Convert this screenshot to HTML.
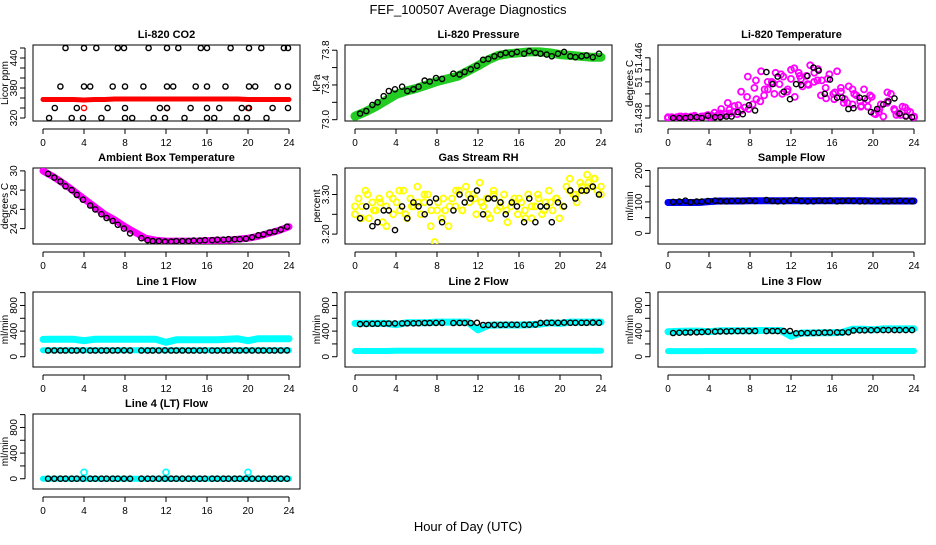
<!DOCTYPE html>
<html><head><meta charset="utf-8"><style>
html,body{margin:0;padding:0;background:#fff}
svg text{font-family:"Liberation Sans",Arial,sans-serif}
</style></head><body>
<svg id="c" width="936" height="540" viewBox="0 0 936 540" xmlns="http://www.w3.org/2000/svg">
<text x="468" y="14" text-anchor="middle" font-size="13">FEF_100507  Average Diagnostics</text>
<text x="468" y="531" text-anchor="middle" font-size="13">Hour of Day (UTC)</text>
</svg>
<script>
// ---- data ----
const blackHours=[0.5,1.1,1.7,2.2,2.8,3.3,3.9,4.6,5.1,5.7,6.2,6.8,7.3,7.9,8.5,9.6,10.2,10.7,11.3,11.9,12.5,13.0,13.6,14.2,14.7,15.3,15.8,16.5,17.0,17.6,18.1,18.7,19.2,19.8,20.4,21.0,21.5,22.1,22.6,23.2,23.8];
const hourly=[0,1,2,3,4,5,6,7,8,9,10,11,12,13,14,15,16,17,18,19,20,21,22,23,24];
const xTicks=[0,4,8,12,16,20,24];

const co2Red=[357,357,357,357,356,357,357,358,358,358,358,358,358,358,358,358,358,358,358,358,357,357,357,357,357];
const co2RedOutHours=[4.0,12.1,20.0];
const co2RedOutVals=[340,340,340];
const co2BlackHours=[2.2,4.0,5.2,7.3,7.9,10.3,12.1,13.2,15.4,16.0,18.3,20.1,21.3,23.5,23.9, 1.7,4.0,4.6,6.8,8.0,9.8,12.1,12.7,14.9,16.0,17.8,20.1,20.7,22.9,23.9, 1.15,3.3,6.3,8.0,11.4,12.1,14.4,16.0,17.2,19.4,20.1,22.4,23.9, 0.6,2.8,3.9,5.7,8.0,8.7,10.8,11.9,13.8,16.0,16.7,18.9,19.9,21.8,23.9];
const co2BlackVals=[460,460,460,460,460,460,460,460,460,460,460,460,460,460,460, 383,383,383,383,383,383,383,383,383,383,383,383,383,383,383, 340,340,340,340,340,340,340,340,340,340,340,340,340, 320,320,320,320,320,320,320,320,320,320,320,320,320,320];

const pressGreen=[73.04,73.09,73.15,73.22,73.29,73.33,73.36,73.40,73.44,73.47,73.50,73.56,73.62,73.69,73.74,73.76,73.77,73.78,73.78,73.77,73.75,73.74,73.73,73.72,73.72];
const pressBlack=[73.07,73.10,73.17,73.20,73.27,73.33,73.35,73.38,73.33,73.35,73.38,73.45,73.44,73.48,73.47,73.53,73.52,73.55,73.58,73.62,73.69,73.70,73.73,73.75,73.77,73.76,73.78,73.76,73.79,73.77,73.76,73.75,73.73,73.76,73.78,73.73,73.72,73.73,73.74,73.72,73.76];

const tempMagenta=[51.4380,51.4381,51.4380,51.4382,51.4381,51.4380,51.4382,51.4381,51.4380,51.4382,51.4383,51.4381,51.4382,51.4384,51.4383,51.4385,51.4386,51.4388,51.4385,51.4390,51.4394,51.4392,51.4398,51.4405,51.4402,51.4410,51.4418,51.4428,51.4440,51.4425,51.4435,51.4415,51.4432,51.4408,51.4440,51.4422,51.4436,51.4450,51.4428,51.4445,51.4430,51.4420,51.4438,51.4412,51.4442,51.4415,51.4405,51.4422,51.4398,51.4410,51.4402,51.4418,51.4395,51.4408,51.4385,51.4392,51.4382,51.4400,51.4412,51.4390,51.4386,51.4395,51.4383,51.4388,51.4381];
const tempMagenta2=[51.4381,51.4380,51.4382,51.4381,51.4383,51.4382,51.4384,51.4387,51.4392,51.4400,51.4396,51.4415,51.4435,51.4420,51.4442,51.4428,51.4412,51.4438,51.4418,51.4446,51.4432,51.4425,51.4440,51.4410,51.4432,51.4405,51.4420,51.4400,51.4412,51.4395,51.4404,51.4386,51.4398,51.4414,51.4392,51.4384,51.4390,51.4382];
const tempMagenta3=[51.4380,51.4381,51.4382,51.4380,51.4382,51.4383,51.4386,51.4391,51.4397,51.4408,51.4430,51.4418,51.4426,51.4412,51.4444,51.4436,51.4424,51.4430,51.4406,51.4414,51.4400,51.4418,51.4396,51.4410,51.4388,51.4402,51.4384,51.4394,51.4381];
const tempBlack=[51.4380,51.4380,51.4380,51.4381,51.4381,51.4380,51.4383,51.4381,51.4381,51.4382,51.4382,51.4388,51.4385,51.4397,51.4390,51.4441,51.4425,51.4435,51.4415,51.4405,51.4425,51.4424,51.4436,51.4447,51.4443,51.4412,51.4431,51.4407,51.4407,51.4392,51.4393,51.4407,51.4406,51.4388,51.4392,51.4398,51.4402,51.4406,51.4386,51.4382,51.4381];

const ambMagenta=[30.0,29.4,28.7,27.9,27.1,26.3,25.5,24.9,24.2,23.6,23.0,22.8,22.7,22.7,22.7,22.7,22.75,22.8,22.8,22.9,23.0,23.2,23.5,23.8,24.2];
const ambBlack=[29.7,29.3,28.9,28.4,28.0,27.5,27.0,26.4,26.0,25.5,25.1,24.8,24.4,24.0,23.5,23.0,22.8,22.7,22.7,22.65,22.65,22.7,22.7,22.7,22.75,22.75,22.8,22.8,22.85,22.85,22.9,22.9,22.9,22.95,23.1,23.3,23.4,23.6,23.7,23.9,24.2];

const rhYellow=[3.25,3.29,3.27,3.31,3.24,3.28,3.26,3.29,3.23,3.27,3.30,3.25,3.28,3.26,3.31,3.24,3.29,3.27,3.32,3.25,3.28,3.30,3.26,3.18,3.28,3.24,3.26,3.22,3.29,3.27,3.31,3.26,3.32,3.28,3.30,3.25,3.33,3.27,3.29,3.24,3.31,3.26,3.28,3.30,3.23,3.27,3.29,3.25,3.28,3.26,3.30,3.24,3.27,3.29,3.25,3.28,3.31,3.26,3.29,3.24,3.27,3.32,3.34,3.30,3.28,3.33,3.31,3.35,3.32,3.34,3.31,3.30];
const rhYellow2=[3.27,3.24,3.30,3.26,3.28,3.22,3.29,3.31,3.25,3.27,3.28,3.30,3.22,3.26,3.29,3.27,3.31,3.26,3.30,3.29,3.28,3.25,3.30,3.27,3.26,3.28,3.29,3.24,3.27,3.30,3.26,3.28,3.29,3.27,3.31,3.30,3.32,3.33,3.34,3.32];
const rhBlack=[3.24,3.27,3.22,3.23,3.26,3.26,3.21,3.27,3.24,3.28,3.27,3.25,3.28,3.29,3.23,3.26,3.30,3.28,3.29,3.31,3.25,3.29,3.29,3.28,3.25,3.28,3.27,3.23,3.29,3.23,3.27,3.27,3.23,3.28,3.27,3.31,3.29,3.31,3.31,3.32,3.30];

const sampleBlue=[98,98,98,98,101,103,103,103,104,104,104,104,104,104,104,104,104,104,104,104,103,103,103,103,103];
const sampleBlack=[100,101,104,99,101,101,103,104,102,102,103,104,103,104,103,106,103,102,102,104,106,103,102,102,104,103,104,102,103,104,103,102,102,103,103,102,102,103,104,103,102];

const line1Upper=[270,272,272,272,250,272,272,272,272,272,272,272,225,265,265,265,265,265,272,280,250,282,282,282,282];
const line1Lower=[100,100,100,100,100,100,100,100,100,100,100,100,100,100,100,100,100,100,100,100,100,100,100,100,100];
const line1Black=[98,98,98,98,98,98,99,98,98,98,98,98,99,99,98,98,98,98,98,99,98,98,98,98,98,98,99,98,98,98,98,98,98,99,98,98,98,98,98,98,99];

const line2Upper=[520,520,520,520,500,530,530,530,540,540,540,540,420,490,495,495,495,500,510,530,520,540,540,540,540];
const line2Lower=[90,90,90,90,92,92,92,92,92,92,92,92,92,92,92,92,92,92,92,92,92,92,92,92,92];
const line2Black=[510,512,514,515,516,518,520,520,522,522,524,526,526,528,528,526,528,526,526,530,495,495,496,497,498,500,498,498,500,502,528,530,530,530,532,530,530,530,530,532,530];

const line3Upper=[390,395,400,400,390,405,405,405,405,410,410,410,320,370,370,375,375,380,430,430,420,435,435,435,435];
const line3Lower=[88,88,88,88,90,90,90,90,90,90,90,90,90,90,90,90,90,90,90,90,90,90,90,90,90];
const line3Black=[370,375,378,380,382,385,390,392,395,395,398,400,400,400,402,400,402,400,400,402,365,368,370,372,374,376,378,380,380,382,410,412,412,414,415,415,416,415,416,416,415];

const line4Cyan=[0,0,0,0,0,0,0,0,0,0,0,0,0,0,0,0,0,0,0,0,0,0,0,0,0];
const line4OutHours=[4,12,20];
const line4OutVals=[100,100,100];
const line4Black=[0,0,0,0,0,0,0,0,0,0,0,0,0,0,0,0,0,0,0,0,0,0,0,0,0,0,0,0,0,0,0,0,0,0,0,0,0,0,0,0,0];

// ---- layout ----
const svg=document.getElementById('c');
const NS='http://www.w3.org/2000/svg';
const colX=[[33,300],[345,612],[658,925]];
const rowY=[[45,121],[168,244],[292,367],[414,489]];
function mk(tag,attrs,parent){const e=document.createElementNS(NS,tag);for(const k in attrs)e.setAttribute(k,attrs[k]);(parent||svg).appendChild(e);return e;}

function makePanel(p){
  const [x0,x1]=colX[p.col],[y0,y1]=rowY[p.row];
  const g=mk('g',{});
  
  
  const xs=h=>x0+10+h*(246/24);
  const ys=v=>y1-(v-p.ylim[0])/(p.ylim[1]-p.ylim[0])*(y1-y0);
  p.xs=xs;p.ys=ys;p.g=g;
  const t=mk('text',{x:(x0+x1)/2,y:y0-7,'text-anchor':'middle','font-size':'11','font-weight':'bold'},g);
  t.textContent=p.title;
  
  
  const ax=mk('g',{stroke:'#000','stroke-width':'1',fill:'none'},g);
  
  
  mk('rect',{x:x0,y:y0,width:x1-x0,height:y1-y0},ax);
  mk('line',{x1:xs(0),x2:xs(24),y1:y1+8,y2:y1+8},ax);
  xTicks.forEach(h=>{
    mk('line',{x1:xs(h),x2:xs(h),y1:y1+8,y2:y1+13},ax);
    const tl=mk('text',{x:xs(h),y:y1+25,'text-anchor':'middle','font-size':'10',fill:'#000',stroke:'none'},g);
    tl.textContent=h;
    
    
  });
  const yA=p.yticks[0],yB=p.yticks[p.yticks.length-1];
  mk('line',{x1:x0-8,x2:x0-8,y1:ys(yA),y2:ys(yB)},ax);
  p.yticks.forEach((v,i)=>{
    mk('line',{x1:x0-13,x2:x0-8,y1:ys(v),y2:ys(v)},ax);
    if(p.ylabels[i]){
      const yl=mk('text',{x:0,y:0,'text-anchor':'middle','font-size':'10',transform:`translate(${x0-16},${ys(v)}) rotate(-90)`},g);
      yl.textContent=p.ylabels[i];
      
      
    }
  });
  const yt=mk('text',{x:0,y:0,'text-anchor':'middle','font-size':'10',transform:`translate(${x0-25},${(y0+y1)/2}) rotate(-90)`},g);
  yt.textContent=p.ylab;
  
  
  const clip=mk('clipPath',{id:'clip-'+p.name},g);
  mk('rect',{x:x0,y:y0,width:x1-x0,height:y1-y0},clip);
  p.plot=mk('g',{'clip-path':`url(#clip-${p.name})`},g);
  
  
  return p;
}
function band(p,hours,vals,color,w,nm){
  const pts=hours.map((h,i)=>p.xs(h).toFixed(1)+','+p.ys(vals[i]).toFixed(1)).join(' ');
  const l=mk('polyline',{points:pts,fill:'none',stroke:color,'stroke-width':w,'stroke-linejoin':'round','stroke-linecap':'round'},p.plot);
  
  
}
function dots(p,hours,vals,color,nm,r,sw){
  const g=mk('g',{fill:'none',stroke:color,'stroke-width':sw||1.4},p.plot);
  
  
  vals.forEach((v,i)=>{
    const c=mk('circle',{cx:p.xs(hours[i]).toFixed(1),cy:p.ys(v).toFixed(1),r:r||2.6},g);
    
    
  });
}
const spread=arr=>arr.map((_,i)=>i*24/(arr.length-1));
const flowTicks=[0,200,400,600,800,1000],flowLabels=['0','','400','','800',''];

const co2=makePanel({name:'co2',col:0,row:0,title:'Li-820 CO2',ylab:'Licor ppm',ylim:[314,466],yticks:[320,340,360,380,400,420,440,460],ylabels:['320','','','380','','','440','']});
band(co2,hourly,co2Red,'#ff0000',5,'co2-red-band');
dots(co2,co2RedOutHours,co2RedOutVals,'#ff0000','co2-red-outliers');
dots(co2,co2BlackHours,co2BlackVals,'#000','co2-black-points');

const pr=makePanel({name:'pressure',col:1,row:0,title:'Li-820 Pressure',ylab:'kPa',ylim:[72.985,73.86],yticks:[73.0,73.2,73.4,73.6,73.8],ylabels:['73.0','','73.4','','73.8']});
band(pr,hourly,pressGreen,'#22cc22',9,'pressure-green-band');
dots(pr,hourly,pressGreen,'#22cc22','pressure-green-points',3);
dots(pr,blackHours,pressBlack,'#000','pressure-black-points');

const tp=makePanel({name:'temperature',col:2,row:0,title:'Li-820 Temperature',ylab:'degrees C',ylim:[51.4376,51.4477],yticks:[51.438,51.4396,51.4412,51.4428,51.4444,51.446],ylabels:['51.438','','','51','','51.446']});
dots(tp,spread(tempMagenta),tempMagenta,'#ff00ff','temperature-magenta-points',3,1.8);
dots(tp,spread(tempMagenta2),tempMagenta2,'#ff00ff','temperature-magenta-points-2',3,1.8);
dots(tp,spread(tempMagenta3),tempMagenta3,'#ff00ff','temperature-magenta-points-3',3,1.8);
dots(tp,blackHours,tempBlack,'#000','temperature-black-points');

const am=makePanel({name:'ambient',col:0,row:1,title:'Ambient Box Temperature',ylab:'degrees C',ylim:[22.4,30.3],yticks:[24,26,28,30],ylabels:['24','26','28','30']});
band(am,hourly,ambMagenta,'#ff00ff',7,'ambient-magenta-band');
dots(am,blackHours,ambBlack,'#000','ambient-black-points');

const rh=makePanel({name:'rh',col:1,row:1,title:'Gas Stream RH',ylab:'percent',ylim:[3.175,3.367],yticks:[3.20,3.25,3.30,3.35],ylabels:['3.20','','3.30','']});
dots(rh,spread(rhYellow),rhYellow,'#ffff00','rh-yellow-points',3,1.8);
dots(rh,spread(rhYellow2),rhYellow2,'#ffff00','rh-yellow-points-2',3,1.8);
dots(rh,blackHours,rhBlack,'#000','rh-black-points');

const sf=makePanel({name:'sample-flow',col:2,row:1,title:'Sample Flow',ylab:'ml/min',ylim:[-34,208],yticks:[0,50,100,150,200],ylabels:['0','','100','','200']});
band(sf,hourly,sampleBlue,'#0000ff',7,'sample-flow-blue-band');
dots(sf,blackHours,sampleBlack,'#000','sample-flow-black-points');

const l1=makePanel({name:'line1',col:0,row:2,title:'Line 1 Flow',ylab:'ml/min',ylim:[-160,1010],yticks:flowTicks,ylabels:flowLabels});
band(l1,hourly,line1Upper,'#00ffff',7,'line1-upper-band');
band(l1,hourly,line1Lower,'#00ffff',6,'line1-lower-band');
dots(l1,blackHours,line1Black,'#000','line1-black-points');

const l2=makePanel({name:'line2',col:1,row:2,title:'Line 2 Flow',ylab:'ml/min',ylim:[-160,1010],yticks:flowTicks,ylabels:flowLabels});
band(l2,hourly,line2Upper,'#00ffff',7,'line2-upper-band');
band(l2,hourly,line2Lower,'#00ffff',6,'line2-lower-band');
dots(l2,blackHours,line2Black,'#000','line2-black-points');

const l3=makePanel({name:'line3',col:2,row:2,title:'Line 3 Flow',ylab:'ml/min',ylim:[-160,1010],yticks:flowTicks,ylabels:flowLabels});
band(l3,hourly,line3Upper,'#00ffff',7,'line3-upper-band');
band(l3,hourly,line3Lower,'#00ffff',6,'line3-lower-band');
dots(l3,blackHours,line3Black,'#000','line3-black-points');

const l4=makePanel({name:'line4',col:0,row:3,title:'Line 4 (LT) Flow',ylab:'ml/min',ylim:[-160,1010],yticks:flowTicks,ylabels:flowLabels});
band(l4,hourly,line4Cyan,'#00ffff',6,'line4-cyan-band');
dots(l4,line4OutHours,line4OutVals,'#00ffff','line4-cyan-outliers',3,1.6);
dots(l4,blackHours,line4Black,'#000','line4-black-points');
</script>
</body></html>
